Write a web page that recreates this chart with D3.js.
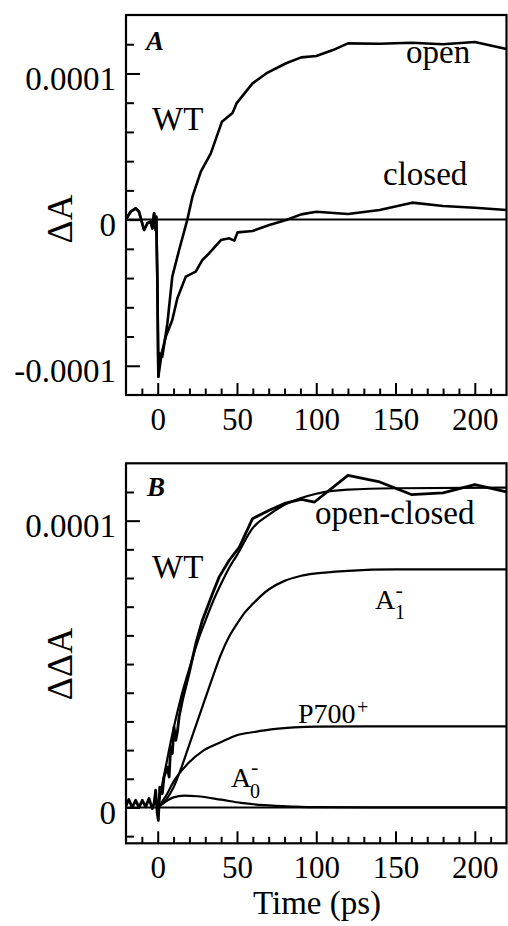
<!DOCTYPE html>
<html><head><meta charset="utf-8">
<script src="https://cdn.jsdelivr.net/npm/d3@7"></script>
<style>
html,body{margin:0;padding:0;background:#fff;}
svg{display:block;}
svg text{font-family:"Liberation Serif","DejaVu Serif",serif;}
</style></head>
<body><svg id="c" width="508" height="926"></svg>
<script>
// values in units of 1e-5 (ΔA × 10^5), time in ps
const xTicksMajor = [0, 50, 100, 150, 200];
const xTicksMinor = [-10,10,20,30,40,60,70,80,90,110,120,130,140,160,170,180,190,210];
const yATicksMajor = [-10, 0, 10];
const yATickLabels = ["-0.0001", "0", "0.0001"];
const yATicksMinor = [-8,-6,-4,-2,2,4,6,8,12];
const yBTicksMajor = [0, 10];
const yBTickLabels = ["0", "0.0001"];
const yBTicksMinor = [-1,1,2,3,4,5,6,7,8,9,11];

// Panel A
const openT = [-20.3,-17.1,-13.9,-11.8,-8.6,-6.5,-4.4,-3.4,-2.3,-1.3,-0.9,-0.2,0.4,1.3,2.9,6.1,9.2,13.5,18.7,21.9,27.2,33.5,40.5,47.2,49.7,59.8,68.4,81,90.5,100,110.5,120,140,160,180,200,220];
const openV = [-0.03,0.54,0.77,0.54,-0.71,-0.25,-0.14,-0.6,0.43,-0.71,0.2,-4.36,-10.75,-9.15,-9.38,-7.1,-3.9,-2.08,0,1.57,3.28,4.53,6.7,7.3,7.95,9.32,10.0,10.7,11.1,11.2,11.6,12.06,12.03,12.1,12.0,12.15,11.67];
const closedT = [-20.3,-17.1,-13.9,-11.8,-8.6,-6.5,-4.4,-3.4,-2.3,-1.3,-0.9,-0.2,0.4,2.5,5.1,9.2,12.4,17.7,24,28.2,32.5,39.9,45.1,48.3,50.4,59.8,70.4,81,90.5,100,120,140,160.5,180,200,220];
const closedV = [-0.03,0.54,0.77,0.54,-0.71,-0.25,-0.14,-0.6,0.43,-0.71,0.2,-4.36,-10.75,-9.15,-8.0,-6.87,-5.38,-3.9,-3.56,-2.76,-2.3,-1.4,-1.28,-1.44,-0.87,-0.78,-0.37,-0.03,0.36,0.54,0.38,0.66,1.16,0.93,0.81,0.66];

// Panel B
const diffT = [-20.3,-18.2,-16.1,-13.9,-11.8,-9.7,-7.6,-5.5,-3.4,-2.3,-1.3,-0.3,0.4,1.3,2.9,4,6.1,7.2,8.2,9.2,10.3,11.4,12.4,13.5,15.6,19.8,24,28.2,34.6,38.8,45.1,51.5,59.8,70.4,79.9,90.5,98.9,120,140,160,180,200,220];
const diffV = [0.02,0.28,0,0.25,0,0.25,0.02,0.31,-0.04,0.14,0.6,-0.21,-0.45,0.71,0.48,1.06,1.41,1.06,2.11,1.88,2.81,2.34,2.63,3.16,3.74,4.67,5.71,6.53,7.46,8.04,8.62,9.08,10.07,10.36,10.6,10.74,10.65,11.58,11.35,10.91,10.97,11.26,11.0];
const fitT = [0,5,10,15,20,25,30,35,40,45,50,60,70,80,90,100,120,150,220];
const fitV = [0,1.4,2.75,3.9,4.85,5.75,6.5,7.2,7.8,8.35,8.8,9.75,10.2,10.55,10.78,10.94,11.08,11.13,11.15];
const a1T = [0,5,10,15,20,25,30,35,40,45,50,55,60,70,80,90,100,120,150,220];
const a1V = [0,0.25,0.7,1.4,2.2,3.0,3.8,4.6,5.35,5.95,6.4,6.8,7.1,7.6,7.9,8.07,8.16,8.25,8.3,8.3];
const p700T = [0,6,10,19,29,40,50,61,71.5,86,100,150,220];
const p700V = [0,0.48,0.9,1.53,1.99,2.28,2.52,2.63,2.72,2.79,2.82,2.83,2.83];
const a0T = [0,10,16.6,25,40,52.5,67,86,100,150,220];
const a0V = [0,0.35,0.41,0.39,0.27,0.16,0.08,0.03,0.01,0,0];

const svg = d3.select("#c");
const FONT = '"Liberation Serif","DejaVu Serif",serif';

function panel(cfg) {
  const x = d3.scaleLinear().domain([-20, 220]).range([126, 506.5]);
  const y = d3.scaleLinear().domain(cfg.yDomain).range([cfg.bottom, cfg.top]);
  const g = svg.append("g");
  const clipId = "clip" + cfg.id;
  svg.append("clipPath").attr("id", clipId).append("rect")
    .attr("x", x.range()[0]).attr("y", cfg.top).attr("width", x.range()[1]-x.range()[0]).attr("height", cfg.bottom-cfg.top);

  g.append("g").attr("transform", `translate(0,${cfg.bottom})`)
    .call(d3.axisBottom(x).tickValues(xTicksMinor).tickSize(-6.5).tickFormat(""))
    .call(s => s.select(".domain").remove())
    .call(s => s.selectAll("line").attr("stroke-width", 2));
  g.append("g").attr("transform", `translate(0,${cfg.bottom})`)
    .attr("font-family", FONT)
    .call(d3.axisBottom(x).tickValues(xTicksMajor).tickSize(-12).tickFormat(d3.format("d")))
    .call(s => s.select(".domain").remove())
    .call(s => s.selectAll("line").attr("stroke-width", 2))
    .call(s => s.selectAll("text").attr("y", 35).attr("dy", 0)
      .attr("font-size", 31).attr("font-family", FONT).attr("fill", "#000"));
  g.append("g").attr("transform", `translate(${x.range()[0]},0)`)
    .call(d3.axisLeft(y).tickValues(cfg.yMinor).tickSize(-8).tickFormat(""))
    .call(s => s.select(".domain").remove())
    .call(s => s.selectAll("line").attr("stroke-width", 2));
  g.append("g").attr("transform", `translate(${x.range()[0]},0)`)
    .attr("font-family", FONT)
    .call(d3.axisLeft(y).tickValues(cfg.yMajor).tickSize(-14).tickFormat((d,i) => cfg.yLabels[i]))
    .call(s => s.select(".domain").remove())
    .call(s => s.selectAll("line").attr("stroke-width", 2))
    .call(s => s.selectAll("text").attr("x", -10).attr("dy", 0).attr("y", 16)
      .attr("font-size", 33).attr("font-family", FONT).attr("fill", "#000"));

  g.append("line").attr("x1", x(-20)).attr("x2", x(220)).attr("y1", y(0)).attr("y2", y(0))
    .attr("stroke", "#000").attr("stroke-width", 2);

  const lines = g.append("g").attr("clip-path", `url(#${clipId})`);
  cfg.series.forEach(s => {
    const pts = s.t.map((t, i) => [t, s.v[i]]);
    const line = d3.line().x(d => x(d[0])).y(d => y(d[1]))
      .curve(s.smooth ? d3.curveMonotoneX : d3.curveLinear);
    lines.append("path").attr("d", line(pts)).attr("fill", "none")
      .attr("stroke", "#000").attr("stroke-width", s.w).attr("stroke-linejoin", "round");
  });

  g.append("rect").attr("x", x.range()[0]).attr("y", cfg.top)
    .attr("width", x.range()[1]-x.range()[0]).attr("height", cfg.bottom-cfg.top)
    .attr("fill", "none").attr("stroke", "#000").attr("stroke-width", 2.2);

  g.append("text").attr("transform", `translate(72,${cfg.yLabelY}) rotate(-90)`)
    .attr("text-anchor", "middle").attr("font-size", 36).attr("font-family", FONT)
    .text(cfg.yLabel);
  return {x, y, g};
}

panel({
  id: "A", top: 15, bottom: 395, yDomain: [-12, 14],
  yMajor: yATicksMajor, yLabels: yATickLabels, yMinor: yATicksMinor,
  yLabel: "ΔA", yLabelY: 219,
  series: [
    {t: closedT, v: closedV, w: 2.6},
    {t: openT, v: openV, w: 2.6}
  ]
});
panel({
  id: "B", top: 463.3, bottom: 843.3, yDomain: [-1.25, 12],
  yMajor: yBTicksMajor, yLabels: yBTickLabels, yMinor: yBTicksMinor,
  yLabel: "ΔΔA", yLabelY: 664,
  series: [
    {t: a0T, v: a0V, w: 2.2, smooth: true},
    {t: p700T, v: p700V, w: 2.2, smooth: true},
    {t: a1T, v: a1V, w: 2.2, smooth: true},
    {t: fitT, v: fitV, w: 2.2, smooth: true},
    {t: diffT, v: diffV, w: 2.8}
  ]
});

function txt(x, y, s, size, opts = {}) {
  const t = svg.append("text").attr("x", x).attr("y", y).attr("font-size", size)
    .attr("font-family", FONT).text(s);
  if (opts.anchor) t.attr("text-anchor", opts.anchor);
  if (opts.bi) t.attr("font-weight", "bold").attr("font-style", "italic");
  return t;
}
txt(146, 49.5, "A", 27, {bi: true});
txt(152, 130, "WT", 33);
txt(406, 63, "open", 33);
txt(383, 185, "closed", 33);
txt(147, 496, "B", 27, {bi: true});
txt(315, 524, "open-closed", 33);
txt(152, 578, "WT", 33);
txt(375, 609.3, "A", 28);
txt(395, 619, "1", 20);
txt(395.5, 596.5, "-", 22);
txt(298, 723.3, "P700", 28);
txt(357, 714, "+", 20);
txt(231, 786.7, "A", 28);
txt(250, 798, "0", 20);
txt(251, 773.8, "-", 22);
txt(317, 914, "Time (ps)", 33, {anchor: "middle"});
</script>
</body></html>
